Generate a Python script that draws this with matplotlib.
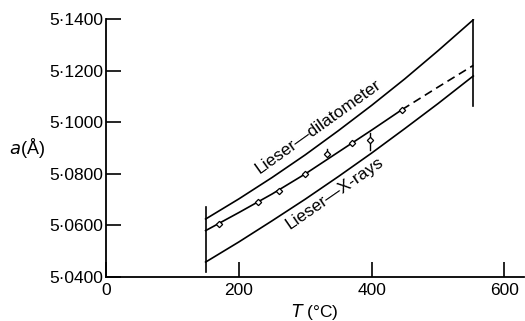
import numpy as np
import matplotlib.pyplot as plt
from matplotlib.ticker import FuncFormatter

plt.rcParams['font.family'] = ['Liberation Sans', 'DejaVu Sans']

# curve read-offs: temperature (deg C) vs lattice parameter a (angstrom)
t_curve = [150, 200, 250, 300, 350, 400, 450, 500, 553]
a_dilat = [5.0625, 5.0703, 5.0786, 5.0874, 5.0968, 5.1066, 5.1169, 5.1278, 5.1398]
a_xray = [5.0458, 5.0536, 5.0618, 5.0702, 5.0790, 5.0881, 5.0976, 5.1073, 5.1180]

t_mid = [150, 200, 250, 300, 350, 400, 446]
a_mid = [5.0580, 5.0650, 5.0722, 5.0800, 5.0885, 5.0970, 5.1050]
t_mid_dash = [446, 500, 553]
a_mid_dash = [5.1050, 5.1137, 5.1221]

# measured points
t_pts = [170, 229, 260, 299, 332, 370, 397, 446]
a_pts = [5.0606, 5.0691, 5.0734, 5.0800, 5.0878, 5.0920, 5.0932, 5.1049]
t_err = 397
a_err = [5.0893, 5.0960]
t_err2 = 332
a_err2 = [5.0878, 5.0895]

# bounding verticals
t_left, a_left = 150, [5.0420, 5.0673]
t_right, a_right = 553, [5.1064, 5.1417]

xticks = [0, 200, 400, 600]
yticks = [5.04, 5.06, 5.08, 5.10, 5.12, 5.14]

fig = plt.figure(figsize=(5.25, 3.21), dpi=100)
ax = fig.add_axes([0.2019, 0.137, 0.797, 0.803])

lw = 1.2
ax.plot(t_curve, a_dilat, color='black', lw=lw)
ax.plot(t_curve, a_xray, color='black', lw=lw)
ax.plot(t_mid, a_mid, color='black', lw=lw)
ax.plot(t_mid_dash, a_mid_dash, color='black', lw=lw, ls=(0, (5, 3)))
ax.plot([t_err, t_err], a_err, color='black', lw=1.0)
ax.plot([t_err2, t_err2], a_err2, color='black', lw=1.0)
ax.plot(t_pts, a_pts, ls='none', marker='D', ms=3.2, mfc='white',
        mec='black', mew=0.9)
ax.plot([t_left, t_left], a_left, color='black', lw=lw)
ax.plot([t_right, t_right], a_right, color='black', lw=lw)

ax.text(319, 5.0982, 'Lieser\u2014dilatometer', rotation=35.5, fontsize=12.5,
        ha='center', va='center', rotation_mode='anchor')
ax.text(344, 5.0726, 'Lieser\u2014X-rays', rotation=34.6, fontsize=12.5,
        ha='center', va='center', rotation_mode='anchor')

ax.set_xlim(0, 630)
ax.set_ylim(5.04, 5.14)
ax.set_xticks(xticks)
ax.set_yticks(yticks)
ax.yaxis.set_major_formatter(FuncFormatter(lambda v, p: f'{v:.4f}'.replace('.', '\u00b7')))
ax.tick_params(direction='in', length=11, width=1.2, labelsize=12.5, pad=2)
ax.tick_params(axis='x', pad=4)
for s in ['top', 'right']:
    ax.spines[s].set_visible(False)
for s in ['left', 'bottom']:
    ax.spines[s].set_linewidth(1.3)

ax.set_xlabel('$T$ (°C)', fontsize=12.5, labelpad=3)
ax.set_ylabel('$a$(Å)', fontsize=13, rotation=0, labelpad=2)
ax.yaxis.set_label_coords(-0.19, 0.455)

fig.savefig('out.png', dpi=100)
